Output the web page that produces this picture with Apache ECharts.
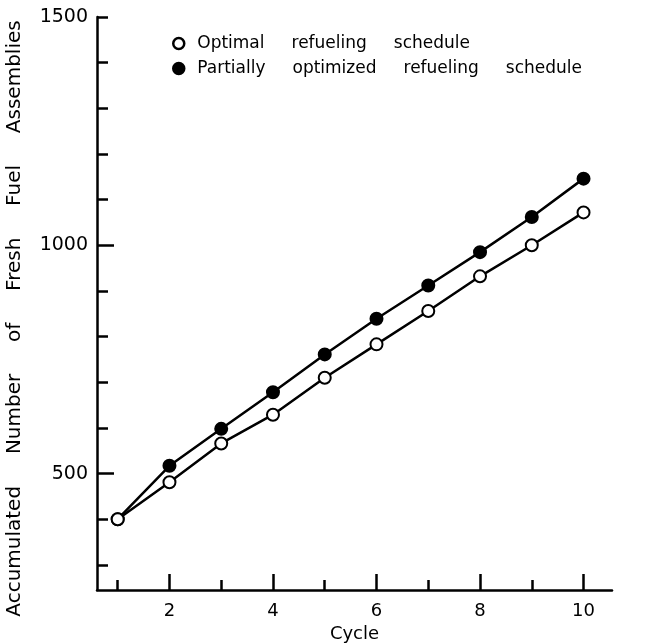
<!DOCTYPE html>
<html>
<head>
<meta charset="utf-8">
<script src="https://cdn.jsdelivr.net/npm/echarts@6/dist/echarts.min.js"></script>
<style>html,body{margin:0;padding:0;background:#fff}#c{width:646px;height:643px}</style>
</head>
<body>
<div id="c"></div>
<script>
var cycles = [1, 2, 3, 4, 5, 6, 7, 8, 9, 10];
var optimal = [400, 481, 566, 629, 710, 783, 856, 932, 1000, 1072];
var partial = [400, 517, 598, 678, 761, 839, 912, 985, 1062, 1146];
var seriesNames = ['Optimal     refueling     schedule', 'Partially     optimized     refueling     schedule'];
var yMinorTicks = [300, 400, 500, 600, 700, 800, 900, 1000, 1100, 1200, 1300, 1400, 1500];
var yMajorTicks = [500, 1000];
var yLabels = [500, 1000, 1500];
var xMinorTicks = [1, 2, 3, 4, 5, 6, 7, 8, 9, 10];
var xMajorTicks = [2, 4, 6, 8, 10];
var xLabels = [2, 4, 6, 8, 10];

function pairs(xs, ys) { return xs.map(function (x, i) { return [x, ys[i]]; }); }

var font = 'DejaVu Sans';
var chart = echarts.init(document.getElementById('c'), null, {renderer: 'canvas'});
chart.setOption({
  backgroundColor: '#fff',
  animation: false,
  textStyle: {fontFamily: font, color: '#000'},
  grid: {left: 97, top: 17, right: 34, bottom: 53, containLabel: false, outerBoundsMode: 'none'},
  legend: {
    orient: 'vertical', left: 167, top: 30, itemGap: 8,
    itemWidth: 11, itemHeight: 11,
    textStyle: {fontFamily: font, fontSize: 17, color: '#000', padding: [0, 0, 0, 8]},
    data: [
      {name: seriesNames[0], icon: 'circle', itemStyle: {color: '#fff', borderColor: '#000', borderWidth: 2.5}},
      {name: seriesNames[1], icon: 'circle', itemStyle: {color: '#000', borderColor: '#000', borderWidth: 2.5}}
    ]
  },
  xAxis: [{
    type: 'value', min: 0.6, max: 10.55,
    name: 'Cycle', nameLocation: 'middle', nameGap: 31,
    nameTextStyle: {fontFamily: font, fontSize: 18, color: '#000'},
    axisLine: {lineStyle: {color: '#000', width: 2.5}},
    axisTick: {inside: true, length: 10, customValues: xMinorTicks, lineStyle: {color: '#000', width: 2.5}},
    axisLabel: {customValues: xLabels, fontFamily: font, fontSize: 18, color: '#000', margin: 12},
    splitLine: {show: false}
  }, {
    type: 'value', min: 0.6, max: 10.55, position: 'bottom',
    axisLine: {show: false},
    axisTick: {inside: true, length: 16, customValues: xMajorTicks, lineStyle: {color: '#000', width: 2.5}},
    axisLabel: {show: false},
    splitLine: {show: false}
  }],
  yAxis: [{
    type: 'value', min: 245, max: 1500,
    name: 'Accumulated     Number     of     Fresh     Fuel     Assemblies',
    nameLocation: 'middle', nameGap: 72, nameRotate: 90,
    nameTextStyle: {fontFamily: font, fontSize: 20, color: '#000', padding: [0, 30, 0, 0]},
    axisLine: {show: true, lineStyle: {color: '#000', width: 2.5}},
    axisTick: {show: true, inside: true, length: 11, customValues: yMinorTicks, lineStyle: {color: '#000', width: 2.5}},
    axisLabel: {customValues: yLabels, fontFamily: font, fontSize: 19, color: '#000', margin: 9,
      formatter: function (v) { return String(v); }},
    splitLine: {show: false}
  }, {
    type: 'value', min: 245, max: 1500, position: 'left',
    axisLine: {show: false},
    axisTick: {show: true, inside: true, length: 17, customValues: yMajorTicks, lineStyle: {color: '#000', width: 2.5}},
    axisLabel: {show: false},
    splitLine: {show: false}
  }],
  series: [{
    name: seriesNames[1], type: 'line', xAxisIndex: 0, yAxisIndex: 0,
    data: pairs(cycles, partial),
    symbol: 'circle', symbolSize: 12,
    lineStyle: {color: '#000', width: 2.5},
    itemStyle: {color: '#000', borderColor: '#000', borderWidth: 2}
  }, {
    name: seriesNames[0], type: 'line', xAxisIndex: 0, yAxisIndex: 0,
    data: pairs(cycles, optimal),
    symbol: 'circle', symbolSize: 12,
    lineStyle: {color: '#000', width: 2.5},
    itemStyle: {color: '#fff', borderColor: '#000', borderWidth: 2}
  }]
});
</script>
</body>
</html>
